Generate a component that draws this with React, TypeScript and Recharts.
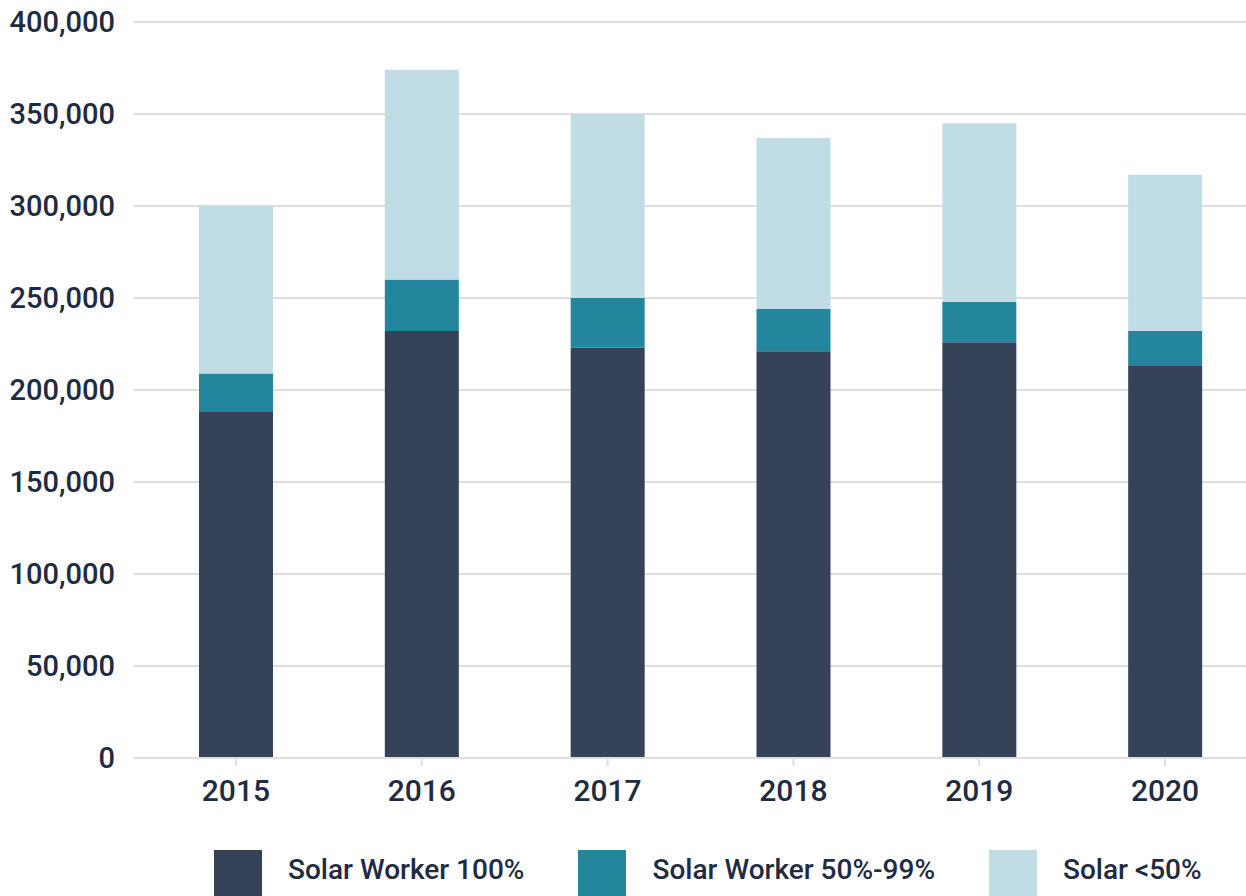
import { BarChart, Bar, XAxis, YAxis, CartesianGrid, Legend } from 'recharts'

const years = ['2015', '2016', '2017', '2018', '2019', '2020']
const worker100 = [188000, 232000, 223000, 221000, 226000, 213000]
const worker50to99 = [21000, 28000, 27000, 23000, 22000, 19000]
const under50 = [91000, 114000, 100000, 93000, 97000, 85000]
const yTicks = [0, 50000, 100000, 150000, 200000, 250000, 300000, 350000, 400000]

const SERIES = [
  { key: 'w100', name: 'Solar Worker 100%', color: '#364258' },
  { key: 'w50', name: 'Solar Worker 50%-99%', color: '#23869d' },
  { key: 'u50', name: 'Solar <50%', color: '#c0dde6' },
]

const TEXT = '#1f2b41'
const FONT = 'Roboto, "Noto Sans", sans-serif'

const data = years.map((y, i) => ({
  year: y,
  w100: worker100[i],
  w50: worker50to99[i],
  u50: under50[i],
}))

function LegendRow() {
  return (
    <div style={{ display: 'flex', paddingLeft: 214, paddingTop: 4, height: 46, fontFamily: FONT }}>
      {SERIES.map((s) => (
        <div key={s.key} style={{ display: 'flex', alignItems: 'flex-start', marginRight: 54 }}>
          <span style={{ width: 48, height: 48, background: s.color, display: 'inline-block' }} />
          <span
            style={{
              marginLeft: 26,
              marginTop: 6,
              fontSize: 28,
              lineHeight: 1,
              fontWeight: 500,
              color: TEXT,
              whiteSpace: 'nowrap',
            }}
          >
            {s.name}
          </span>
        </div>
      ))}
    </div>
  )
}

export default function App() {
  return (
    <div style={{ position: 'absolute', left: 0, top: 0, width: 1246, height: 896, overflow: 'hidden', background: '#fff' }}>
      <BarChart
        width={1260}
        height={896}
        data={data}
        margin={{ top: 22, right: 2, left: 0, bottom: 0 }}
        barSize={74}
      >
        <CartesianGrid vertical={false} stroke="#dedede" strokeWidth={2} />
        <XAxis
          dataKey="year"
          height={88}
          padding={{ left: 9, right: 0 }}
          axisLine={{ stroke: '#dedede', strokeWidth: 2 }}
          tickLine={{ stroke: '#dedede', strokeWidth: 2 }}
          tickSize={8}
          tickMargin={14}
          tick={{ fontSize: 30, fill: TEXT, fontFamily: FONT, fontWeight: 500 }}
        />
        <YAxis
          width={134}
          domain={[0, 400000]}
          ticks={yTicks}
          axisLine={false}
          tickLine={false}
          tickSize={0}
          tickMargin={19}
          tick={{ fontSize: 29, fill: TEXT, fontFamily: FONT, fontWeight: 500 }}
          tickFormatter={(v: number) => v.toLocaleString('en-US')}
        />
        <Legend verticalAlign="bottom" content={() => <LegendRow />} />
        {SERIES.map((s) => (
          <Bar key={s.key} dataKey={s.key} name={s.name} stackId="a" fill={s.color} isAnimationActive={false} />
        ))}
      </BarChart>
    </div>
  )
}
